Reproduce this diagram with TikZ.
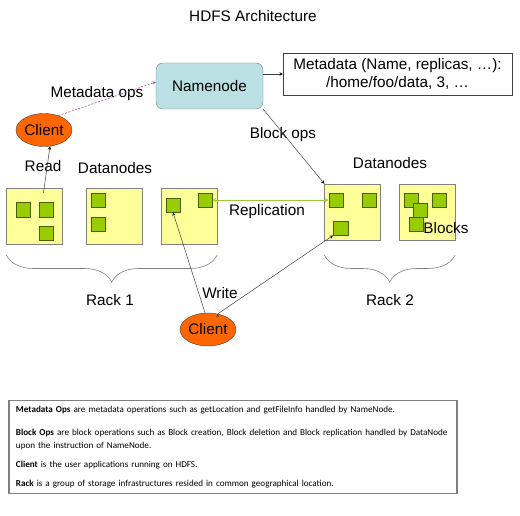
\documentclass[tikz,border=0pt]{standalone}
\usepackage{fontspec}
\setmainfont{Liberation Sans}
\newfontfamily\notefont{Carlito}
\usetikzlibrary{positioning}
\usetikzlibrary{shapes.geometric}
\usetikzlibrary{decorations.pathreplacing}

\definecolor{nnblue}{RGB}{186,224,228}
\definecolor{clientorange}{RGB}{255,102,0}
\definecolor{dnyellow}{RGB}{255,255,153}
\definecolor{blockgreen}{RGB}{153,204,0}
\definecolor{blockedge}{RGB}{70,95,0}
\definecolor{metapurple}{RGB}{153,51,153}
\definecolor{replgreen}{RGB}{153,204,51}
\definecolor{linegray}{RGB}{64,64,64}

\tikzset{
  namebox/.style={draw=gray, fill=nnblue, rounded corners=7pt, minimum width=107, minimum height=46},
  metabox/.style={draw=linegray, align=center, minimum width=229, minimum height=42, inner sep=1pt},
  client/.style={ellipse, draw=linegray, fill=clientorange, minimum width=56, minimum height=33, inner sep=0pt},
  datanode/.style={draw=gray, fill=dnyellow, minimum width=56, minimum height=56},
  blk/.style={draw=blockedge, fill=blockgreen, minimum width=14.5, minimum height=14.5, inner sep=0pt},
  flow/.style={draw=linegray, -stealth, line width=0.5pt},
  rack/.style={draw=gray, line width=0.6pt, decorate, decoration={brace, mirror, amplitude=27}},
  notebox/.style={draw=gray, line width=1.4pt, text width=434pt, inner xsep=7pt,
    minimum height=93, align=left, font=\notefont\fontsize{9.1}{13}\selectfont}
}

\begin{document}
\begin{tikzpicture}[x=1pt, y=-1pt, font=\fontsize{15.3}{18}\selectfont]
  \useasboundingbox (0,0) rectangle (520,516);

  \node (title) at (253,16) {HDFS Architecture};

  % namenode and its metadata
  \node[namebox] (nn) at (209.5,86) {Namenode};
  \node[metabox] (meta) at (397.5,74) {Metadata (Name, replicas, \dots):\\/home/foo/data, 3, \dots};

  % clients
  \node[client] (client1) at (44,130) {Client};
  \node[client] (client2) at (208,329.5) {Client};

  % datanodes, rack 1
  \node[datanode] (dn1) at (34.5,216) {};
  \node[datanode] (dn2) at (114,216) {};
  \node[datanode] (dn3) at (189,216) {};
  % datanodes, rack 2
  \node[datanode] (dn4) at (352.5,212) {};
  \node[datanode] (dn5) at (427,212) {};

  % blocks
  \node[blk] (b1a) at (23,209.5) {};
  \node[blk] (b1b) at (46,209.5) {};
  \node[blk] (b1c) at (46,233) {};
  \node[blk] (b2a) at (98,200) {};
  \node[blk] (b2b) at (98,224) {};
  \node[blk] (b3a) at (173,205) {};
  \node[blk] (b3b) at (205,200) {};
  \node[blk] (b4a) at (336,200) {};
  \node[blk] (b4b) at (369,200) {};
  \node[blk] (b4c) at (340.5,228) {};
  \node[blk] (b5a) at (411,200) {};
  \node[blk] (b5b) at (439,200) {};
  \node[blk] (b5c) at (420,210) {};
  \node[blk] (b5d) at (416,224) {};

  % labels
  \node (mdops) at (97,94) {Metadata ops};
  \node (read) at (43,166) {Read};
  \node (dnlabel1) at (115,168) {Datanodes};
  \node (dnlabel2) at (390,163) {Datanodes};
  \node (blkops) at (283,135) {Block ops};
  \node (repl) at (267,212) {Replication};
  \node (blocks) at (446,228) {Blocks};
  \node (write) at (220,293) {Write};

  % racks
  \draw[rack] (dn1.west |- 0,255) -- (dn3.east |- 0,255);
  \draw[rack] (dn4.west |- 0,255) -- (dn5.east |- 0,255);
  \node (rack1) at (110,300) {Rack 1};
  \node (rack2) at (390,300) {Rack 2};

  % connectors
  \path[flow]
    (nn.east |- meta.west) edge (meta.west)
    (nn.south east) edge (dn4.north west)
    ([xshift=9pt,yshift=-5pt]dn1.north) edge (client1.-70)
    (client2.100) edge (b3a.south)
    (client2.58) edge (b4c.south west);
  \draw[metapurple, dash pattern=on 2pt off 1.5pt, -stealth, line width=0.5pt] (client1.45) -- ([yshift=4pt]nn.west);
  \draw[replgreen, stealth-stealth, line width=0.7pt] (b3b.east) -- (b4a.west);

  % legend
  \node[notebox] (legend) at (233,447) {%
    \textbf{Metadata Ops} are metadata operations such as getLocation and getFileInfo handled by NameNode.\\[10pt]
    \textbf{Block Ops} are block operations such as Block creation, Block deletion and Block replication handled by DataNode\\
    upon the instruction of NameNode.\\[6pt]
    \textbf{Client} is the user applications running on HDFS.\\[6pt]
    \textbf{Rack} is a group of storage infrastructures resided in common geographical location.};
\end{tikzpicture}
\end{document}
